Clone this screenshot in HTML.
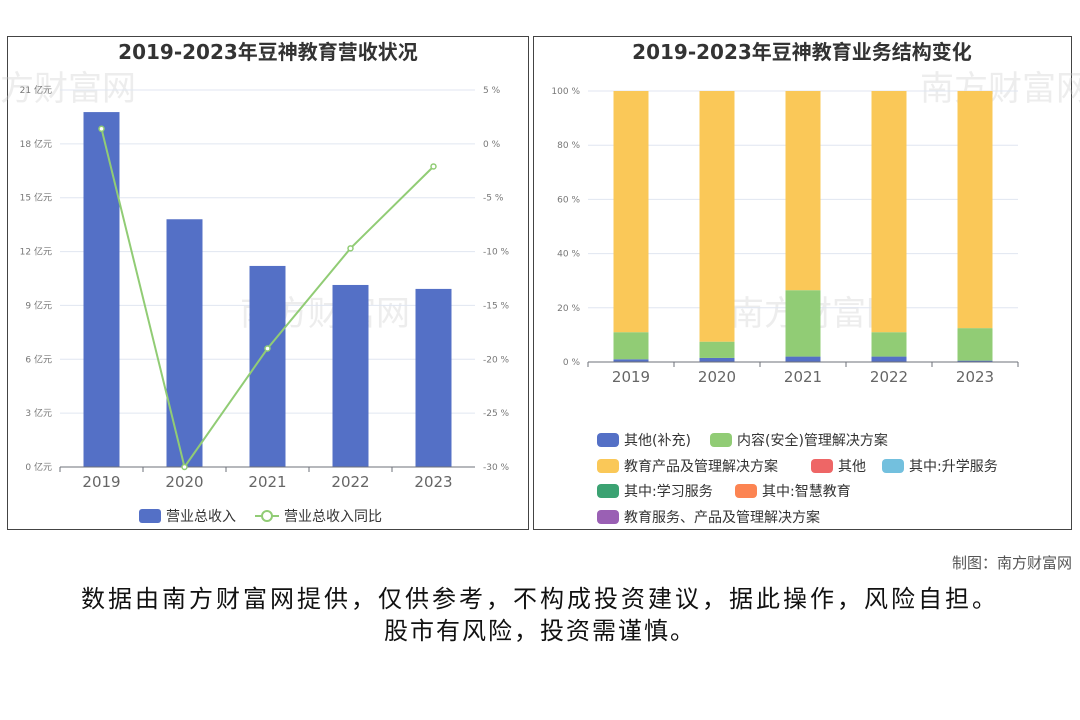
<!DOCTYPE html>
<html><head><meta charset="utf-8"><style>
body{margin:0;width:1080px;height:720px;background:#fff;font-family:"DejaVu Sans","Noto Sans CJK SC",sans-serif;overflow:hidden;position:relative}
svg{position:absolute;left:0;top:0}
</style></head><body>
<svg width="1080" height="720" id="svg">
<rect x="7.5" y="36.5" width="521" height="493" fill="none" stroke="#444"/>
<rect x="533.5" y="36.5" width="538" height="493" fill="none" stroke="#444"/>
<text x="268" y="59" text-anchor="middle" font-size="20" font-weight="bold" fill="#333">2019-2023年豆神教育营收状况</text>
<text x="802" y="59" text-anchor="middle" font-size="20" font-weight="bold" fill="#333">2019-2023年豆神教育业务结构变化</text>
<g id="wm" font-size="34" fill="#ccc" opacity="0.35">
<text x="0" y="100">方财富网</text><text x="920" y="100">南方财富网</text><text x="240" y="325">南方财富网</text><text x="730" y="325">南方财富网</text>
</g>
<g id="left"></g><g id="right"></g>
<text x="1072" y="568" text-anchor="end" font-size="15" fill="#555">制图：南方财富网</text>
<text x="540" y="607" text-anchor="middle" font-size="24" letter-spacing="3" fill="#111">数据由南方财富网提供，仅供参考，不构成投资建议，据此操作，风险自担。</text>
<text x="540" y="639" text-anchor="middle" font-size="24" letter-spacing="2" fill="#111">股市有风险，投资需谨慎。</text>
</svg>
<script>
const years=["2019","2020","2021","2022","2023"];
const revenue=[19.77,13.8,11.2,10.14,9.92];
const growth=[1.4,-30,-19.0,-9.7,-2.1];
const leftTicks=[0,3,6,9,12,15,18,21];
const rightTicks=[-30,-25,-20,-15,-10,-5,0,5];
const shareOther=[1,1.5,2,2,0.5];
const shareContent=[10,6,24.5,9,12];
const shareEdu=[89,92.5,73.5,89,87.5];
const pctTicks=[0,20,40,60,80,100];
const NS="http://www.w3.org/2000/svg";
function mk(p,t,a,txt){const e=document.createElementNS(NS,t);for(const k in a)e.setAttribute(k,a[k]);if(txt!=null)e.textContent=txt;p.appendChild(e);return e;}
const L=document.getElementById('left');
const x0=60,x1=475,yT=90,yB=467;
const yL=v=>yB-(v/21)*(yB-yT);
const yR=v=>yB-((v+30)/35)*(yB-yT);
const cw=(x1-x0)/5;const cx=i=>x0+cw*(i+0.5);
leftTicks.forEach(t=>{const y=yL(t);
 if(t>0){const g=mk(L,'line',{x1:x0,x2:x1,y1:y,y2:y,stroke:'#e0e6f1'});}
 const e=mk(L,'text',{x:52,y:y+3,'text-anchor':'end','font-size':9,fill:'#777'},t+' 亿元');});
rightTicks.forEach(t=>{const e=mk(L,'text',{x:483,y:yR(t)+3,'font-size':9,fill:'#777'},t+' %');});
years.forEach((yr,i)=>{const b=mk(L,'rect',{x:cx(i)-18,y:yL(revenue[i]),width:36,height:yB-yL(revenue[i]),fill:'#5470c6'});
 
 const t=mk(L,'text',{x:cx(i),y:487,'text-anchor':'middle','font-size':15,fill:'#666'},yr);
 const tk=mk(L,'line',{x1:x0+cw*i,x2:x0+cw*i,y1:yB,y2:yB+5,stroke:'#6e7079'});});
const ax=mk(L,'line',{x1:x0,x2:x1,y1:yB,y2:yB,stroke:'#6e7079'});
const pl=mk(L,'polyline',{points:growth.map((v,i)=>cx(i)+','+yR(v)).join(' '),fill:'none',stroke:'#91cc75','stroke-width':2});

growth.forEach((v,i)=>{const c=mk(L,'circle',{cx:cx(i),cy:yR(v),r:2.5,fill:'#fff',stroke:'#91cc75','stroke-width':1.5});});
let lg=mk(L,'rect',{x:139,y:509,width:22,height:14,rx:3,fill:'#5470c6'});
lg=mk(L,'text',{x:166,y:521,'font-size':14,fill:'#333'},'营业总收入');
lg=mk(L,'line',{x1:255,x2:279,y1:516,y2:516,stroke:'#91cc75','stroke-width':2});
lg=mk(L,'circle',{cx:267,cy:516,r:5,fill:'#fff',stroke:'#91cc75','stroke-width':2});
lg=mk(L,'text',{x:284,y:521,'font-size':14,fill:'#333'},'营业总收入同比');
const R=document.getElementById('right');
const rx0=588,rx1=1018,ryT=91,ryB=362;
const yP=v=>ryB-(v/100)*(ryB-ryT);
const rcw=(rx1-rx0)/5;const rcx=i=>rx0+rcw*(i+0.5);
pctTicks.forEach(t=>{const y=yP(t);
 if(t>0){const g=mk(R,'line',{x1:rx0,x2:rx1,y1:y,y2:y,stroke:'#e0e6f1'});}
 const e=mk(R,'text',{x:580,y:y+3,'text-anchor':'end','font-size':9,fill:'#777'},t+' %');});
const series=[[shareOther,'#5470c6','other-supplement'],[shareContent,'#91cc75','content-security'],[shareEdu,'#fac858','edu-products']];
years.forEach((yr,i)=>{let acc=0;
 series.forEach(s=>{const v=s[0][i];const r=mk(R,'rect',{x:rcx(i)-17.5,y:yP(acc+v),width:35,height:yP(acc)-yP(acc+v),fill:s[1]});
  acc+=v;});
 const t=mk(R,'text',{x:rcx(i),y:382,'text-anchor':'middle','font-size':15,fill:'#666'},yr);
 const tk=mk(R,'line',{x1:rx0+rcw*i,x2:rx0+rcw*i,y1:ryB,y2:ryB+5,stroke:'#6e7079'});});
const rtk=mk(R,'line',{x1:rx1,x2:rx1,y1:ryB,y2:ryB+5,stroke:'#6e7079'});
const rax=mk(R,'line',{x1:rx0,x2:rx1,y1:ryB,y2:ryB,stroke:'#6e7079'});
const legendItems=[['其他(补充)','#5470c6',597,440],['内容(安全)管理解决方案','#91cc75',710,440],['教育产品及管理解决方案','#fac858',597,466],['其他','#ee6666',811,466],['其中:升学服务','#73c0de',882,466],['其中:学习服务','#3ba272',597,491],['其中:智慧教育','#fc8452',735,491],['教育服务、产品及管理解决方案','#9a60b4',597,517]];
legendItems.forEach(it=>{const r=mk(R,'rect',{x:it[2],y:it[3]-7,width:22,height:14,rx:4,fill:it[1]});
 const t=mk(R,'text',{x:it[2]+27,y:it[3]+5,'font-size':14,fill:'#333'},it[0]);});
</script>
</body></html>
